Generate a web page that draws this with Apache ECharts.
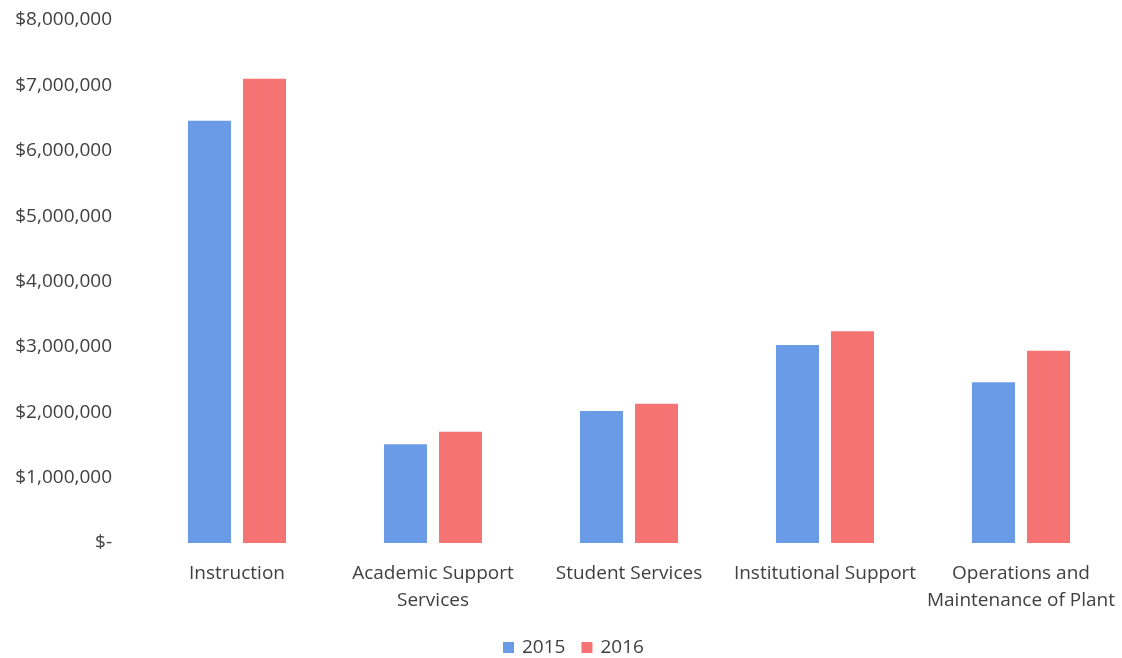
<!DOCTYPE html>
<html>
<head>
<meta charset="utf-8">
<script src="https://cdn.jsdelivr.net/npm/echarts@6/dist/echarts.min.js"></script>
<style>
html, body { margin: 0; padding: 0; background: #fff; }
#chart { width: 1122px; height: 658px; }
</style>
</head>
<body>
<div id="chart"></div>
<script>
var categories = ['Instruction', 'Academic Support\nServices', 'Student Services', 'Institutional Support', 'Operations and\nMaintenance of Plant'];
var values2015 = [6460000, 1510000, 2020000, 3030000, 2460000];
var values2016 = [7100000, 1700000, 2130000, 3240000, 2940000];
var yTicks = [0, 1000000, 2000000, 3000000, 4000000, 5000000, 6000000, 7000000, 8000000];

var fontFam = '"Open Sans", sans-serif';

function money(v) {
    if (v === 0) return '$-';
    return '$' + v.toLocaleString('en-US');
}

var chart = echarts.init(document.getElementById('chart'));
chart.setOption({
    animation: false,
    textStyle: { fontFamily: fontFam },
    grid: { left: 139, right: 3, top: 20, bottom: 115, containLabel: false },
    legend: {
        data: ['2015', '2016'],
        bottom: -4,
        left: 498,
        itemWidth: 11,
        itemHeight: 11,
        itemGap: 16,
        icon: 'rect',
        textStyle: { fontSize: 19, color: '#404040', fontFamily: fontFam, padding: [0, 0, 0, 3] }
    },
    xAxis: {
        type: 'category',
        data: categories,
        axisLine: { show: false },
        axisTick: { show: false },
        axisLabel: { fontSize: 19, color: '#404040', margin: 17, lineHeight: 27, interval: 0 }
    },
    yAxis: {
        type: 'value',
        min: yTicks[0],
        max: yTicks[yTicks.length - 1],
        interval: 1000000,
        splitLine: { show: false },
        axisLine: { show: false },
        axisTick: { show: false },
        axisLabel: { fontSize: 19, color: '#404040', margin: 27, formatter: money }
    },
    series: [
        {
            name: '2015',
            type: 'bar',
            data: values2015,
            barWidth: 43,
            barGap: '28%',
            itemStyle: { color: '#6a9be6' }
        },
        {
            name: '2016',
            type: 'bar',
            data: values2016,
            barWidth: 43,
            itemStyle: { color: '#f57373' }
        }
    ]
});
</script>
</body>
</html>
